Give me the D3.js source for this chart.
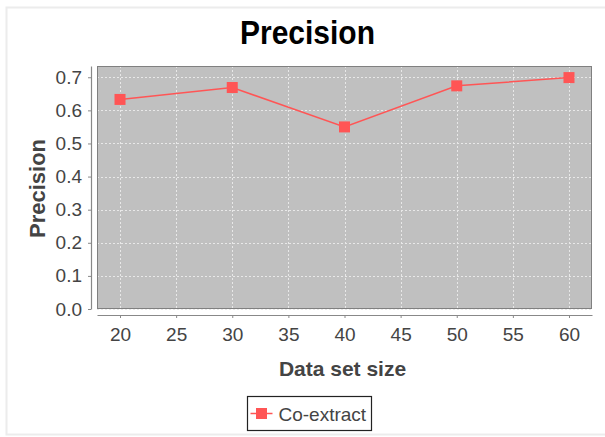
<!DOCTYPE html>
<html>
<head>
<meta charset="utf-8">
<script src="https://cdn.jsdelivr.net/npm/d3@7"></script>
<style>
  body { margin: 0; background: #fff; }
  svg { display: block; }
</style>
</head>
<body>
<svg id="chart" width="605" height="437"></svg>
<script>
// data
const sizes = [20, 30, 40, 50, 60];
const precision = [0.633, 0.669, 0.550, 0.674, 0.699];
const xTicks = [20, 25, 30, 35, 40, 45, 50, 55, 60];
const yTicks = [0.0, 0.1, 0.2, 0.3, 0.4, 0.5, 0.6, 0.7];
const seriesName = "Co-extract";

const width = 605;
const height = 437;
const plot = {left: 97, right: 592, top: 66, bottom: 309};
const red = "#ff5555";
const axisColor = "#888";
const textColor = "#444";
const font = "'Liberation Sans', Arial, sans-serif";

const svg = d3.select("#chart");

// light frame round the whole chart
svg.append("rect")
    .attr("x", 6.5).attr("y", 7.5)
    .attr("width", 620).attr("height", 427)
    .attr("fill", "none")
    .attr("stroke", "#ececec")
    .attr("stroke-width", 2);

const x = d3.scaleLinear().domain([17.95, 62.05]).range([plot.left, plot.right]);
const y = d3.scaleLinear().domain([0, 0.734]).range([plot.bottom, plot.top]);

// plot background
svg.append("rect")
    .attr("x", plot.left).attr("y", plot.top)
    .attr("width", plot.right - plot.left)
    .attr("height", plot.bottom - plot.top)
    .attr("fill", "#c0c0c0");

// grid
const grid = svg.append("g")
    .attr("stroke", "#e8e8e8")
    .attr("stroke-width", 1)
    .attr("stroke-dasharray", "2,2");

grid.selectAll("line.vx")
    .data(xTicks)
    .join("line")
    .attr("class", "vx")
    .attr("x1", d => Math.round(x(d)) + 0.5).attr("x2", d => Math.round(x(d)) + 0.5)
    .attr("y1", plot.top).attr("y2", plot.bottom);

grid.selectAll("line.hy")
    .data(yTicks)
    .join("line")
    .attr("class", "hy")
    .attr("y1", d => Math.round(y(d)) + 0.5).attr("y2", d => Math.round(y(d)) + 0.5)
    .attr("x1", plot.left).attr("x2", plot.right);

// plot border
svg.append("rect")
    .attr("x", plot.left + 0.5).attr("y", plot.top + 0.5)
    .attr("width", plot.right - plot.left - 1)
    .attr("height", plot.bottom - plot.top - 1)
    .attr("fill", "none")
    .attr("stroke", "#808080");

// axes, drawn a few pixels away from the plot
const xAxis = svg.append("g")
    .attr("transform", `translate(0, ${plot.bottom + 6})`)
    .call(d3.axisBottom(x).tickValues(xTicks).tickSize(3).tickPadding(9).tickSizeOuter(0));

const yAxis = svg.append("g")
    .attr("transform", `translate(${plot.left - 6}, 0)`)
    .call(d3.axisLeft(y).tickValues(yTicks).tickFormat(d3.format(".1f"))
        .tickSize(3).tickPadding(6).tickSizeOuter(0));

[xAxis, yAxis].forEach(a => {
    a.select(".domain").attr("stroke", axisColor).attr("stroke-width", 1.2);
    a.selectAll(".tick line").attr("stroke", axisColor);
    a.selectAll(".tick text")
        .attr("fill", textColor)
        .style("font-family", font)
        .style("font-size", "19px");
});
xAxis.selectAll(".tick text").attr("dy", "0.72em");

// series line
const line = d3.line()
    .x((d, i) => x(sizes[i]))
    .y(d => y(d));

svg.append("path")
    .datum(precision)
    .attr("d", line)
    .attr("fill", "none")
    .attr("stroke", red)
    .attr("stroke-width", 1.5);

const markerSize = 11;
svg.selectAll("rect.marker")
    .data(precision)
    .join("rect")
    .attr("class", "marker")
    .attr("x", (d, i) => x(sizes[i]) - markerSize / 2)
    .attr("y", d => y(d) - markerSize / 2)
    .attr("width", markerSize)
    .attr("height", markerSize)
    .attr("fill", red);

// titles
svg.append("text")
    .attr("x", 307.5).attr("y", 44)
    .attr("text-anchor", "middle")
    .attr("textLength", 135)
    .attr("lengthAdjust", "spacingAndGlyphs")
    .style("font-family", font)
    .style("font-weight", "bold")
    .style("font-size", "33px")
    .attr("fill", "#000")
    .text("Precision");

svg.append("text")
    .attr("x", (plot.left + plot.right) / 2 - 2).attr("y", 376)
    .attr("text-anchor", "middle")
    .style("font-family", font)
    .style("font-weight", "bold")
    .style("font-size", "21px")
    .attr("fill", textColor)
    .text("Data set size");

svg.append("text")
    .attr("transform", `translate(45, ${(plot.top + plot.bottom) / 2 + 1}) rotate(-90)`)
    .attr("text-anchor", "middle")
    .style("font-family", font)
    .style("font-weight", "bold")
    .style("font-size", "22px")
    .attr("fill", textColor)
    .text("Precision");

// legend
const legend = svg.append("g").attr("transform", "translate(247.5, 396.5)");
legend.append("rect")
    .attr("width", 124).attr("height", 34)
    .attr("fill", "#fff")
    .attr("stroke", "#222")
    .attr("stroke-width", 1.2);
legend.append("line")
    .attr("x1", 3).attr("x2", 25)
    .attr("y1", 17).attr("y2", 17)
    .attr("stroke", red)
    .attr("stroke-width", 1.5);
legend.append("rect")
    .attr("x", 14 - markerSize / 2).attr("y", 17 - markerSize / 2)
    .attr("width", markerSize).attr("height", markerSize)
    .attr("fill", red);
legend.append("text")
    .attr("x", 31).attr("y", 24.5)
    .style("font-family", font)
    .style("font-size", "19px")
    .attr("fill", textColor)
    .text(seriesName);
</script>
</body>
</html>
